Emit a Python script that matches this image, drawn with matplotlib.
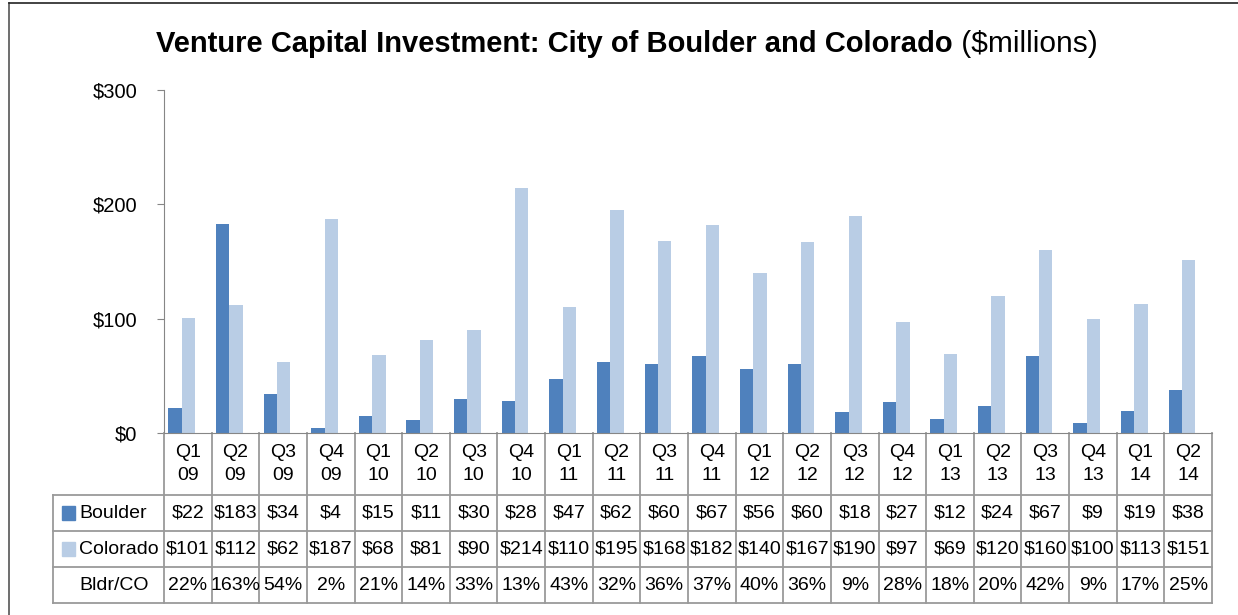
import numpy as np
import matplotlib
matplotlib.use("Agg")
import matplotlib.pyplot as plt
from matplotlib.patches import Rectangle

plt.rcParams['font.family'] = ['Liberation Sans', 'DejaVu Sans']

quarters = ["Q1\n09", "Q2\n09", "Q3\n09", "Q4\n09", "Q1\n10", "Q2\n10", "Q3\n10", "Q4\n10",
            "Q1\n11", "Q2\n11", "Q3\n11", "Q4\n11", "Q1\n12", "Q2\n12", "Q3\n12", "Q4\n12",
            "Q1\n13", "Q2\n13", "Q3\n13", "Q4\n13", "Q1\n14", "Q2\n14"]
boulder = [22, 183, 34, 4, 15, 11, 30, 28, 47, 62, 60, 67, 56, 60, 18, 27, 12, 24, 67, 9, 19, 38]
colorado = [101, 112, 62, 187, 68, 81, 90, 214, 110, 195, 168, 182, 140, 167, 190, 97, 69, 120, 160, 100, 113, 151]
ratio = ["22%", "163%", "54%", "2%", "21%", "14%", "33%", "13%", "43%", "32%", "36%", "37%",
         "40%", "36%", "9%", "28%", "18%", "20%", "42%", "9%", "17%", "25%"]

c_bldr = "#4F81BD"
c_co = "#B9CDE5"
grid_c = "#9A9A9A"
fs = 14

W, H = 1238, 615
fig = plt.figure(figsize=(W / 100, H / 100), dpi=100)

# outer chart border (left & top visible)
fig.add_artist(plt.Line2D([9 / W, 9 / W], [0, 1 - 3 / H], color="#555555", lw=1.2))
fig.add_artist(plt.Line2D([9 / W, 1], [1 - 3 / H, 1 - 3 / H], color="#222222", lw=1.2))

left, right, top, bottom = 164, 1212, 90, 433
ax = fig.add_axes([left / W, 1 - bottom / H, (right - left) / W, (bottom - top) / H])

x = np.arange(len(quarters))
bw = 0.28
off = -0.13
ax.bar(x + off - bw / 2, boulder, bw, color=c_bldr, label="Boulder")
ax.bar(x + off + bw / 2, colorado, bw, color=c_co, label="Colorado")

ax.set_xlim(-0.5, len(quarters) - 0.5)
ax.set_ylim(0, 300)
ax.set_yticks([0, 100, 200, 300])
ax.set_yticklabels(["$0", "$100", "$200", "$300"], fontsize=14.5)
ax.tick_params(axis="y", direction="out", length=5, color="#868686", pad=14)
ax.set_xticks([])
for s in ["top", "right"]:
    ax.spines[s].set_visible(False)
ax.spines["left"].set_color("#868686")
ax.spines["bottom"].set_color("#868686")

# data table below the axes
row_h = 36 / (bottom - top)
head_h = 62 / (bottom - top)
tr = ax.get_xaxis_transform()
n = len(quarters)
rows_y = [-head_h - row_h * i for i in range(4)]  # row boundaries
leg_left = (53 - left) / (right - left) * n - 0.5

ln = dict(color=grid_c, lw=1.3, transform=tr, clip_on=False)
for i in range(n + 1):
    ax.plot([i - 0.5, i - 0.5], [0, rows_y[-1]], **ln)
for yb in rows_y:
    ax.plot([leg_left, n - 0.5], [yb, yb], **ln)
ax.plot([leg_left, leg_left], [rows_y[0], rows_y[-1]], **ln)

for i, q in enumerate(quarters):
    ax.text(i, -head_h / 2, q, ha="center", va="center", fontsize=fs,
            linespacing=1.45, transform=tr)
    ax.text(i, rows_y[0] - row_h / 2, "$%d" % boulder[i], ha="center", va="center",
            fontsize=fs, transform=tr)
    ax.text(i, rows_y[1] - row_h / 2, "$%d" % colorado[i], ha="center", va="center",
            fontsize=fs, transform=tr)
    ax.text(i, rows_y[2] - row_h / 2, ratio[i], ha="center", va="center",
            fontsize=fs, transform=tr)

# legend keys in table
key_x = leg_left + 0.19
for k, (lab, col) in enumerate([("Boulder", c_bldr), ("Colorado", c_co)]):
    yc = rows_y[k] - row_h / 2
    ax.add_patch(Rectangle((key_x, yc - 0.019), 0.27, 0.038, color=col,
                           transform=tr, clip_on=False))
    ax.text(key_x + 0.36, yc, lab, ha="left", va="center", fontsize=fs, transform=tr)
ax.text(key_x + 0.36, rows_y[2] - row_h / 2, "Bldr/CO", ha="left", va="center",
        fontsize=fs, transform=tr)

# title
tx = 953 / W
fig.text(tx, 1 - 44 / H, "Venture Capital Investment: City of Boulder and Colorado",
         ha="right", va="center", fontsize=21, fontweight="bold")
fig.text(tx, 1 - 44 / H, " ($millions)", ha="left", va="center", fontsize=21.5)

fig.savefig("out.png", dpi=100)
